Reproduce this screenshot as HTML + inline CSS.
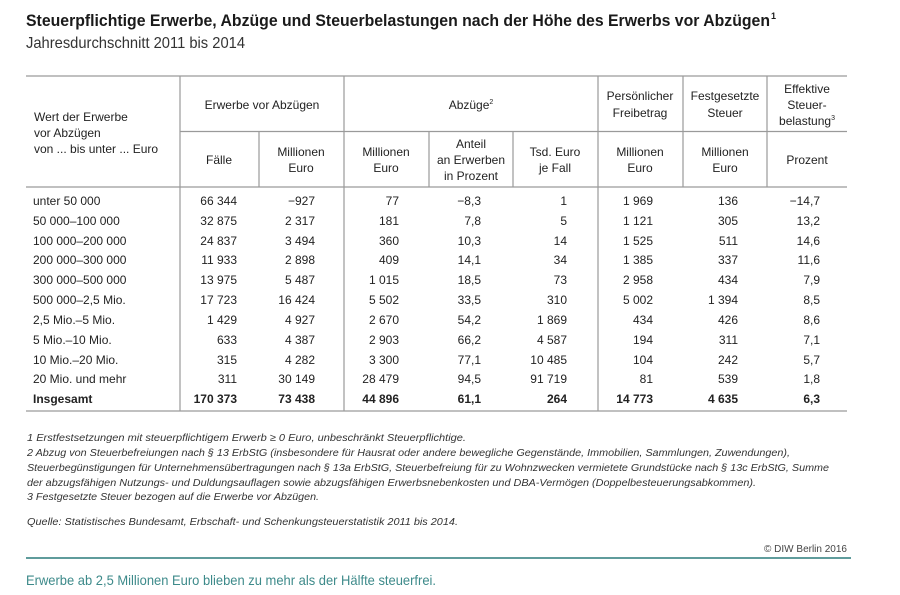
<!DOCTYPE html>
<html><head><meta charset="utf-8"><style>
html,body{margin:0;padding:0;background:#fff;}
svg{display:block;font-family:"Liberation Sans",sans-serif;}
</style></head><body>
<svg width="900" height="595" viewBox="0 0 900 595" xmlns="http://www.w3.org/2000/svg">
<text x="26" y="26" font-size="17" font-weight="bold" fill="#1a1a1a" textLength="744" lengthAdjust="spacingAndGlyphs">Steuerpflichtige Erwerbe, Abzüge und Steuerbelastungen nach der Höhe des Erwerbs vor Abzügen</text>
<text x="771" y="19" font-size="9" font-weight="bold" fill="#1a1a1a">1</text>
<text x="26" y="48" font-size="16" fill="#333" textLength="219" lengthAdjust="spacingAndGlyphs">Jahresdurchschnitt 2011 bis 2014</text>
<g stroke="#9a9a9a" stroke-width="1.2" fill="none">
<line x1="26" y1="76" x2="847" y2="76"/>
<line x1="180" y1="131.5" x2="847" y2="131.5"/>
<line x1="26" y1="187" x2="847" y2="187"/>
<line x1="26" y1="411" x2="847" y2="411"/>
<line x1="180" y1="76" x2="180" y2="411"/>
<line x1="344" y1="76" x2="344" y2="411"/>
<line x1="598" y1="76" x2="598" y2="411"/>
<line x1="683" y1="76" x2="683" y2="187"/>
<line x1="767" y1="76" x2="767" y2="187"/>
<line x1="259" y1="131.5" x2="259" y2="187"/>
<line x1="429" y1="131.5" x2="429" y2="187"/>
<line x1="513" y1="131.5" x2="513" y2="187"/>
</g>
<g font-size="12" fill="#222">
<text x="34" y="121">Wert der Erwerbe</text>
<text x="34" y="137">vor Abzügen</text>
<text x="34" y="153">von ... bis unter ... Euro</text>
<g text-anchor="middle">
<text x="262" y="109">Erwerbe vor Abzügen</text>
<text x="471" y="109">Abzüge<tspan font-size="7" dy="-5">2</tspan></text>
<text x="640" y="100">Persönlicher</text><text x="640" y="117">Freibetrag</text>
<text x="725" y="100">Festgesetzte</text><text x="725" y="117">Steuer</text>
<text x="807" y="93">Effektive</text><text x="807" y="109">Steuer-</text><text x="807" y="125">belastung<tspan font-size="7" dy="-5">3</tspan></text>
<text x="219" y="164">Fälle</text>
<text x="301" y="156">Millionen</text><text x="301" y="172">Euro</text>
<text x="386" y="156">Millionen</text><text x="386" y="172">Euro</text>
<text x="471" y="148">Anteil</text><text x="471" y="164">an Erwerben</text><text x="471" y="180">in Prozent</text>
<text x="555" y="156">Tsd. Euro</text><text x="555" y="172">je Fall</text>
<text x="640" y="156">Millionen</text><text x="640" y="172">Euro</text>
<text x="725" y="156">Millionen</text><text x="725" y="172">Euro</text>
<text x="807" y="164">Prozent</text>
</g>
</g>
<g font-size="12" fill="#222">
<g>
<text x="33" y="205">unter 50 000</text>
<text x="33" y="225">50 000–100 000</text>
<text x="33" y="245">100 000–200 000</text>
<text x="33" y="264">200 000–300 000</text>
<text x="33" y="284">300 000–500 000</text>
<text x="33" y="304">500 000–2,5 Mio.</text>
<text x="33" y="324">2,5 Mio.–5 Mio.</text>
<text x="33" y="344">5 Mio.–10 Mio.</text>
<text x="33" y="364">10 Mio.–20 Mio.</text>
<text x="33" y="383">20 Mio. und mehr</text>
<text x="33" y="403" font-weight="bold">Insgesamt</text>
</g>
<g text-anchor="end">
<text x="237" y="205">66 344</text><text x="237" y="225">32 875</text><text x="237" y="245">24 837</text><text x="237" y="264">11 933</text><text x="237" y="284">13 975</text><text x="237" y="304">17 723</text><text x="237" y="324">1 429</text><text x="237" y="344">633</text><text x="237" y="364">315</text><text x="237" y="383">311</text><text x="237" y="403" font-weight="bold">170 373</text>
<text x="315" y="205">−927</text><text x="315" y="225">2 317</text><text x="315" y="245">3 494</text><text x="315" y="264">2 898</text><text x="315" y="284">5 487</text><text x="315" y="304">16 424</text><text x="315" y="324">4 927</text><text x="315" y="344">4 387</text><text x="315" y="364">4 282</text><text x="315" y="383">30 149</text><text x="315" y="403" font-weight="bold">73 438</text>
<text x="399" y="205">77</text><text x="399" y="225">181</text><text x="399" y="245">360</text><text x="399" y="264">409</text><text x="399" y="284">1 015</text><text x="399" y="304">5 502</text><text x="399" y="324">2 670</text><text x="399" y="344">2 903</text><text x="399" y="364">3 300</text><text x="399" y="383">28 479</text><text x="399" y="403" font-weight="bold">44 896</text>
<text x="481" y="205">−8,3</text><text x="481" y="225">7,8</text><text x="481" y="245">10,3</text><text x="481" y="264">14,1</text><text x="481" y="284">18,5</text><text x="481" y="304">33,5</text><text x="481" y="324">54,2</text><text x="481" y="344">66,2</text><text x="481" y="364">77,1</text><text x="481" y="383">94,5</text><text x="481" y="403" font-weight="bold">61,1</text>
<text x="567" y="205">1</text><text x="567" y="225">5</text><text x="567" y="245">14</text><text x="567" y="264">34</text><text x="567" y="284">73</text><text x="567" y="304">310</text><text x="567" y="324">1 869</text><text x="567" y="344">4 587</text><text x="567" y="364">10 485</text><text x="567" y="383">91 719</text><text x="567" y="403" font-weight="bold">264</text>
<text x="653" y="205">1 969</text><text x="653" y="225">1 121</text><text x="653" y="245">1 525</text><text x="653" y="264">1 385</text><text x="653" y="284">2 958</text><text x="653" y="304">5 002</text><text x="653" y="324">434</text><text x="653" y="344">194</text><text x="653" y="364">104</text><text x="653" y="383">81</text><text x="653" y="403" font-weight="bold">14 773</text>
<text x="738" y="205">136</text><text x="738" y="225">305</text><text x="738" y="245">511</text><text x="738" y="264">337</text><text x="738" y="284">434</text><text x="738" y="304">1 394</text><text x="738" y="324">426</text><text x="738" y="344">311</text><text x="738" y="364">242</text><text x="738" y="383">539</text><text x="738" y="403" font-weight="bold">4 635</text>
<text x="820" y="205">−14,7</text><text x="820" y="225">13,2</text><text x="820" y="245">14,6</text><text x="820" y="264">11,6</text><text x="820" y="284">7,9</text><text x="820" y="304">8,5</text><text x="820" y="324">8,6</text><text x="820" y="344">7,1</text><text x="820" y="364">5,7</text><text x="820" y="383">1,8</text><text x="820" y="403" font-weight="bold">6,3</text>
</g>
</g>
<g font-size="10.5" font-style="italic" fill="#333">
<text x="27" y="441" textLength="439" lengthAdjust="spacingAndGlyphs">1  Erstfestsetzungen mit steuerpflichtigem Erwerb ≥ 0 Euro, unbeschränkt Steuerpflichtige.</text>
<text x="27" y="456" textLength="763" lengthAdjust="spacingAndGlyphs">2  Abzug von Steuerbefreiungen nach § 13 ErbStG (insbesondere für Hausrat oder andere bewegliche Gegenstände, Immobilien, Sammlungen, Zuwendungen),</text>
<text x="27" y="471" textLength="802" lengthAdjust="spacingAndGlyphs">Steuerbegünstigungen für Unternehmensübertragungen nach § 13a ErbStG, Steuerbefreiung für zu Wohnzwecken vermietete Grundstücke nach § 13c ErbStG, Summe</text>
<text x="27" y="486" textLength="729" lengthAdjust="spacingAndGlyphs">der abzugsfähigen Nutzungs- und Duldungsauflagen sowie abzugsfähigen Erwerbsnebenkosten und DBA-Vermögen (Doppelbesteuerungsabkommen).</text>
<text x="27" y="500" textLength="292" lengthAdjust="spacingAndGlyphs">3  Festgesetzte Steuer bezogen auf die Erwerbe vor Abzügen.</text>
<text x="27" y="525" textLength="431" lengthAdjust="spacingAndGlyphs">Quelle: Statistisches Bundesamt, Erbschaft- und Schenkungsteuerstatistik 2011 bis 2014.</text>
</g>
<text x="847" y="552" font-size="10" fill="#444" text-anchor="end">© DIW Berlin 2016</text>
<line x1="26" y1="558" x2="851" y2="558" stroke="#5f9c9c" stroke-width="2"/>
<text x="26" y="585" font-size="14" fill="#3d8a8a" textLength="410" lengthAdjust="spacingAndGlyphs">Erwerbe ab 2,5 Millionen Euro blieben zu mehr als der Hälfte steuerfrei.</text>
</svg>
</body></html>
